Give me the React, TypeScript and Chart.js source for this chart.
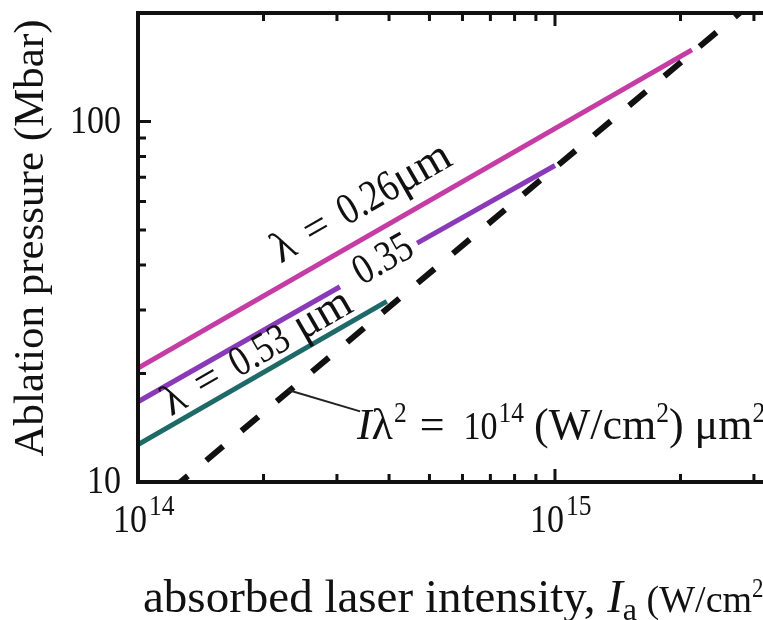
import React, { useEffect, useRef } from "react";
import { Chart, registerables } from "chart.js";

Chart.register(...registerables);

// ---------- data ----------
const xRange = [1e14, 3.154e15];
const yRange = [10, 200];
const xMajorTicks = [1e14, 1e15];
const xTickExponents = ["14", "15"];
const xMinorTicks = [2e14, 3e14, 4e14, 5e14, 6e14, 7e14, 8e14, 9e14, 2e15, 3e15];
const yMajorTicks = [10, 100];
const yTickLabels = ["10", "100"];
const yMinorTicks = [20, 30, 40, 50, 60, 70, 80, 90, 200];

const seriesNames = ["λ = 0.26 μm", "λ = 0.35 μm", "λ = 0.53 μm", "Iλ² = 10¹⁴ (W/cm²) μm²"];
const intensity026 = [1e14, 2.13e15];
const pressure026 = [20.7, 158];
const intensity035 = [1e14, 3.05e14, 3.8e14, 4.67e14, 1e15];
const pressure035 = [16.7, 34.8, null, 46.0, 75.5];
const intensity053 = [1e14, 3.95e14];
const pressure053 = [12.7, 31.7];
const intensityThreshold = [1.2e14, 3.2e15];
const pressureThreshold = [9.5, 230];

const colors = ["#c63ca5", "#8a3ab8", "#1e6a68", "#111111"];

// ---------- styling ----------
const FONT = '"Liberation Serif", "Times New Roman", serif';
const INK = "#111";

type Run = { t: string; size: number; italic?: boolean; dy?: number; dx?: number; sx?: number };

function fontOf(r: Run) {
  return `${r.italic ? "italic " : ""}${r.size}px ${FONT}`;
}
function runsWidth(ctx: CanvasRenderingContext2D, runs: Run[]) {
  let w = 0;
  for (const r of runs) {
    ctx.font = fontOf(r);
    w += ctx.measureText(r.t).width * (r.sx || 1) + (r.dx || 0);
  }
  return w;
}
function drawRuns(
  ctx: CanvasRenderingContext2D,
  runs: Run[],
  x: number,
  y: number,
  angle = 0,
  align: "left" | "center" | "right" = "left",
  baseline: CanvasTextBaseline = "alphabetic"
) {
  ctx.save();
  ctx.translate(x, y);
  ctx.rotate(angle);
  ctx.fillStyle = INK;
  ctx.textBaseline = baseline;
  ctx.textAlign = "left";
  const w = runsWidth(ctx, runs);
  let cx = align === "center" ? -w / 2 : align === "right" ? -w : 0;
  for (const r of runs) {
    ctx.font = fontOf(r);
    cx += r.dx || 0;
    const sx = r.sx || 1;
    ctx.save();
    ctx.translate(cx, r.dy || 0);
    ctx.scale(sx, 1);
    ctx.fillText(r.t, 0, 0);
    ctx.restore();
    cx += ctx.measureText(r.t).width * sx;
  }
  ctx.restore();
}

// digits in the figure are narrow
const D = (t: string, size = 41, extra: Partial<Run> = {}): Run => ({ t, size, sx: 0.83, ...extra });
const SUP = (t: string, extra: Partial<Run> = {}): Run => ({ t, size: 30, sx: 0.85, dy: -17, ...extra });

function pts(xs: number[], ys: (number | null)[]) {
  return xs.map((x, i) => ({ x, y: ys[i] }));
}

const figurePlugin = {
  id: "figureDecor",
  afterDatasetsDraw(chart: any) {
    const ctx: CanvasRenderingContext2D = chart.ctx;
    const xs = chart.scales.x;
    const ys = chart.scales.y;
    const { left, right, top, bottom } = chart.chartArea;
    const X = (v: number) => xs.getPixelForValue(v);
    const Y = (v: number) => ys.getPixelForValue(v);

    ctx.save();
    // frame
    ctx.strokeStyle = INK;
    ctx.lineWidth = 4;
    ctx.lineCap = "butt";
    ctx.beginPath();
    ctx.moveTo(left, top - 2);
    ctx.lineTo(left, bottom + 2);
    ctx.moveTo(left - 2, bottom);
    ctx.lineTo(right, bottom);
    ctx.moveTo(left - 2, top);
    ctx.lineTo(right, top);
    ctx.stroke();

    // ticks (inward)
    ctx.lineWidth = 3;
    const tick = (len: number, vals: number[], axis: "x" | "y") => {
      ctx.beginPath();
      for (const v of vals) {
        if (axis === "x") {
          const px = X(v);
          ctx.moveTo(px, bottom);
          ctx.lineTo(px, bottom - len);
          ctx.moveTo(px, top);
          ctx.lineTo(px, top + len);
        } else {
          const py = Y(v);
          ctx.moveTo(left, py);
          ctx.lineTo(left + len, py);
        }
      }
      ctx.stroke();
    };
    tick(8, xMinorTicks, "x");
    tick(13, xMajorTicks.slice(1), "x");
    tick(8, yMinorTicks, "y");
    tick(13, yMajorTicks.slice(1), "y");

    // tick labels
    xMajorTicks.forEach((v, i) => {
      drawRuns(ctx, [D("10"), SUP(xTickExponents[i], { dx: 2 })], X(v) - 25, 532);
    });
    yMajorTicks.forEach((v, i) => {
      drawRuns(ctx, [D(yTickLabels[i])], left - 17, Y(v) + 11, 0, "right");
    });

    // axis titles
    drawRuns(ctx, [{ t: "Ablation pressure (Mbar)", size: 43 }], 43, 238, -Math.PI / 2, "center");
    drawRuns(ctx, [
      { t: "absorbed laser intensity, ", size: 47 },
      { t: "I", size: 47, italic: true },
      { t: "a", size: 32, dy: 8 },
      { t: " (W/cm", size: 38 },
      SUP("2", { size: 27, dy: -15 }),
      { t: ")", size: 38 },
    ], 143, 612);

    // line labels, rotated along the lines
    const angleOf = (xv: number[], yv: (number | null)[]) => {
      const dx = X(xv[xv.length - 1]) - X(xv[0]);
      const dy = Y(yv[yv.length - 1] as number) - Y(yv[0] as number);
      return Math.atan2(dy, dx);
    };
    const a026 = angleOf(intensity026, pressure026);
    const a035 = angleOf(intensity035, pressure035);
    const a053 = angleOf(intensity053, pressure053);
    drawRuns(ctx, [
      { t: "λ", size: 44 },
      { t: " = ", size: 44, dx: 4 },
      D("0.26", 44, { dx: 4 }),
      { t: "μm", size: 46 },
    ], X(2.2e14), Y(40.3), a026);
    drawRuns(ctx, [D("0.35", 43)], X(3.88e14), Y(41.2), a035, "center", "middle");
    drawRuns(ctx, [
      { t: "λ", size: 44 },
      { t: " = ", size: 44, dx: 5 },
      D("0.53", 43, { dx: 5 }),
      { t: " μm", size: 46 },
    ], X(1.2e14), Y(15.2), a053);

    // leader + annotation for the dashed line
    ctx.strokeStyle = "#222";
    ctx.lineWidth = 2;
    ctx.beginPath();
    ctx.moveTo(X(2.29e14), Y(18.0));
    ctx.lineTo(X(3.41e14), Y(15.7));
    ctx.stroke();
    drawRuns(ctx, [
      { t: "I", size: 44, italic: true },
      { t: "λ", size: 44 },
      SUP("2", { dx: 1 }),
      { t: " = ", size: 44, dx: 2 },
      D("10", 41, { dx: 8 }),
      SUP("14", { dx: 1 }),
      { t: "(W/cm", size: 44, dx: 10 },
      SUP("2"),
      { t: ") μm", size: 44 },
      SUP("2"),
    ], X(3.35e14), Y(13.2));
    ctx.restore();
  },
};

export default function App() {
  const ref = useRef<HTMLCanvasElement | null>(null);
  useEffect(() => {
    if (!ref.current) return;
    const lineDs = (label: string, data: any[], color: string, extra: any = {}) => ({
      label,
      data,
      borderColor: color,
      backgroundColor: color,
      borderWidth: 5,
      pointRadius: 0,
      showLine: true,
      fill: false,
      spanGaps: false,
      clip: 0,
      order: 1,
      ...extra,
    });
    const chart = new Chart(ref.current, {
      type: "scatter",
      data: {
        datasets: [
          lineDs(seriesNames[3], pts(intensityThreshold, pressureThreshold), colors[3], {
            borderDash: [22, 24],
            borderWidth: 6,
            order: 0,
          }),
          lineDs(seriesNames[0], pts(intensity026, pressure026), colors[0]),
          lineDs(seriesNames[1], pts(intensity035, pressure035), colors[1]),
          lineDs(seriesNames[2], pts(intensity053, pressure053), colors[2]),
        ],
      },
      options: {
        animation: false,
        responsive: false,
        devicePixelRatio: 1,
        layout: { padding: { left: 138, top: 13, right: 0, bottom: 138 } },
        plugins: { legend: { display: false }, tooltip: { enabled: false } },
        events: [],
        scales: {
          x: { type: "logarithmic", min: xRange[0], max: xRange[1], display: false },
          y: { type: "logarithmic", min: yRange[0], max: yRange[1], display: false },
        },
      },
      plugins: [figurePlugin],
    });
    return () => chart.destroy();
  }, []);
  return (
    <div style={{ position: "absolute", left: 0, top: 0, width: 763, height: 620, overflow: "hidden", background: "#fff" }}>
      <canvas ref={ref} width={763} height={620} style={{ width: 763, height: 620, display: "block" }} />
    </div>
  );
}
